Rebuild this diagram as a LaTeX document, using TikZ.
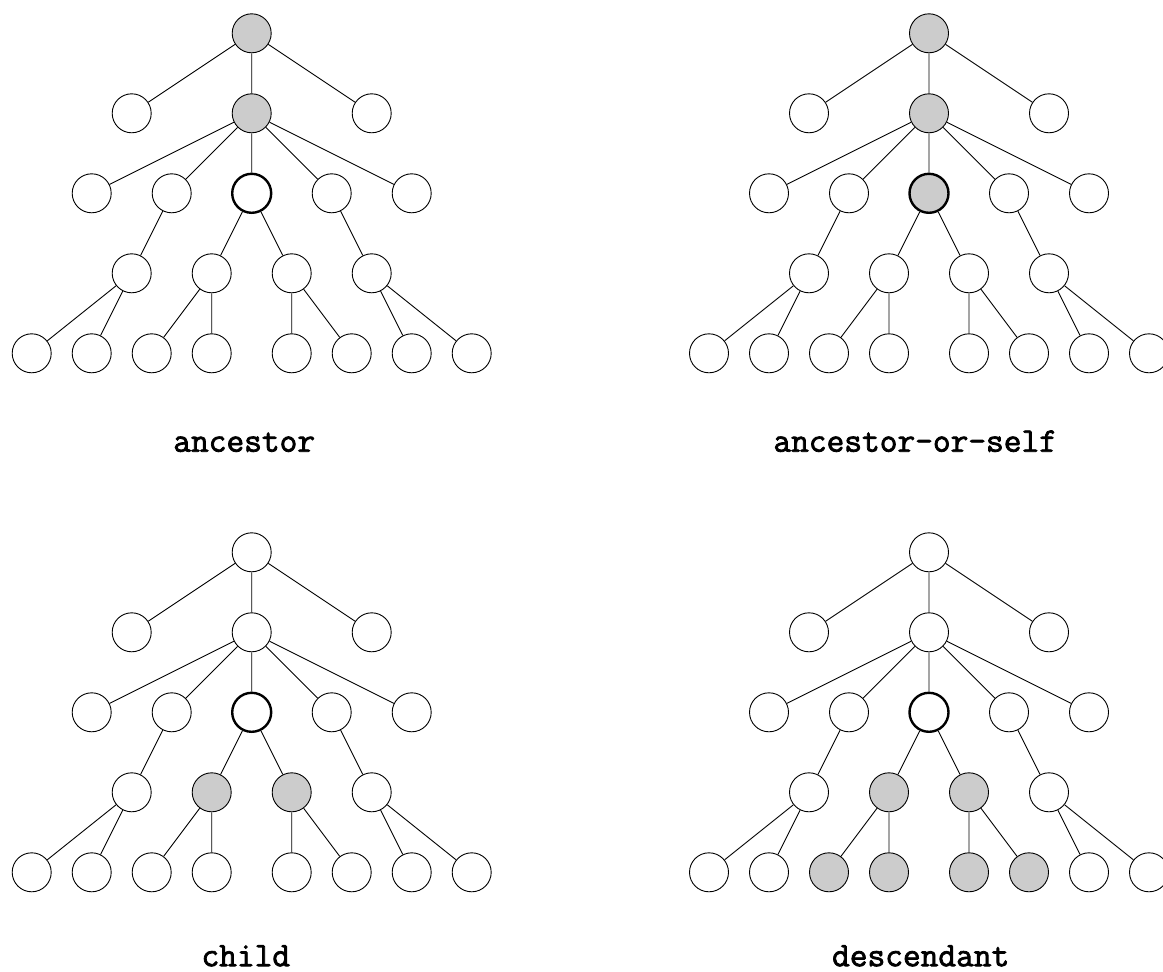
\documentclass[tikz,border=0pt]{standalone}
\usepackage{fontspec}
\newfontfamily\axisfont{Latin Modern Mono}[FakeBold=2.2]
\tikzset{
  nd/.style={circle, draw, line width=0.9pt, minimum size=39pt, inner sep=0pt, fill=white},
  on/.style={fill=black!20},
  cur/.style={line width=2.4pt},
  edge/.style={line width=0.9pt},
  axis name/.style={font=\fontsize{34.4}{40}\selectfont\axisfont, anchor=base,
    inner sep=0pt, text depth=0pt},
}
% #1 prefix, #2 root position, #3 root, #4 middle parent, #5 context node,
% #6 children, #7 grandchildren
\newcommand\xtree[7]{%
  \begin{scope}[shift={#2}]
    \node[nd,#3] (#1r) at (0,0) {};
    \node[nd] (#1a1) at (-120,80) {};
    \node[nd,#4] (#1a2) at (0,80) {};
    \node[nd] (#1a3) at (120,80) {};
    \node[nd] (#1b1) at (-160,160) {};
    \node[nd] (#1b2) at (-80,160) {};
    \node[nd,cur,#5] (#1b3) at (0,160) {};
    \node[nd] (#1b4) at (80,160) {};
    \node[nd] (#1b5) at (160,160) {};
    \node[nd] (#1c1) at (-120,240) {};
    \node[nd,#6] (#1c2) at (-40,240) {};
    \node[nd,#6] (#1c3) at (40,240) {};
    \node[nd] (#1c4) at (120,240) {};
    \node[nd] (#1d1) at (-220,320) {};
    \node[nd] (#1d2) at (-160,320) {};
    \node[nd,#7] (#1d3) at (-100,320) {};
    \node[nd,#7] (#1d4) at (-40,320) {};
    \node[nd,#7] (#1d5) at (40,320) {};
    \node[nd,#7] (#1d6) at (100,320) {};
    \node[nd] (#1d7) at (160,320) {};
    \node[nd] (#1d8) at (220,320) {};
    \draw[edge] (#1r) -- (#1a1) (#1r) -- (#1a2) (#1r) -- (#1a3);
    \draw[edge] (#1a2) -- (#1b1) (#1a2) -- (#1b2) (#1a2) -- (#1b3)
                (#1a2) -- (#1b4) (#1a2) -- (#1b5);
    \draw[edge] (#1b2) -- (#1c1) (#1b3) -- (#1c2) (#1b3) -- (#1c3) (#1b4) -- (#1c4);
    \draw[edge] (#1c1) -- (#1d1) (#1c1) -- (#1d2) (#1c2) -- (#1d3) (#1c2) -- (#1d4)
                (#1c3) -- (#1d5) (#1c3) -- (#1d6) (#1c4) -- (#1d7) (#1c4) -- (#1d8);
  \end{scope}}
\begin{document}
\begin{tikzpicture}[x=1pt, y=-1pt]
  \useasboundingbox (0,0) rectangle (1163,972);
  \xtree{A}{(251.7,33.3)}{on}{on}{}{}{}
  \xtree{S}{(929,33.3)}{on}{on}{on}{}{}
  \xtree{C}{(251.7,552.3)}{}{}{}{on}{}
  \xtree{D}{(929,552.3)}{}{}{}{on}{on}
  \node[axis name] (la) at (244.2,451.7) {ancestor};
  \node[axis name] (ls) at (915.2,451.7) {ancestor-or-self};
  \node[axis name] (lc) at (245.8,966.2) {child};
  \node[axis name] (ld) at (920.7,966.2) {descendant};
\end{tikzpicture}
\end{document}
